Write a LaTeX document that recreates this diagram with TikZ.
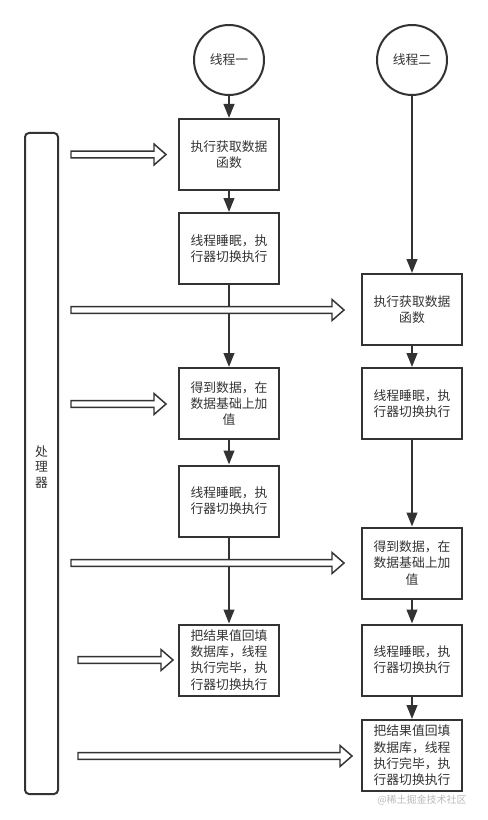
\documentclass[tikz,border=0pt]{standalone}
\usepackage{fontspec}
\setmainfont{Noto Sans CJK SC}
\usetikzlibrary{arrows.meta,calc}

\definecolor{inkgray}{RGB}{51,51,51}
\definecolor{markgray}{RGB}{185,185,185}

\tikzset{every picture/.style={line width=1.5pt}}
\tikzset{
  thread/.style={circle,draw=inkgray,text=inkgray,minimum size=52.5pt,inner sep=0pt,font=\fontsize{9.6}{12.2}\selectfont},
  stepbox/.style={rectangle,draw=inkgray,text=inkgray,minimum width=75pt,minimum height=53.25pt,inner sep=0pt,align=center,font=\fontsize{9.6}{12.2}\selectfont},
  flow/.style={draw=inkgray,-{Triangle[length=10.5pt,width=8pt]}},
  fatarr/.style={draw=inkgray,line width=1.1pt,fill=white,line join=miter}
}
% hollow arrow from #1 to #2 (both at same height)
\newcommand{\fatarrow}[2]{%
  \draw[fatarr] ($(#1)+(0,-3.3)$) -- ($(#2)+(-12,-3.3)$) -- ($(#2)+(-12,-10.5)$) -- (#2)
    -- ($(#2)+(-12,10.5)$) -- ($(#2)+(-12,3.3)$) -- ($(#1)+(0,3.3)$) -- cycle;}

\begin{document}
\begin{tikzpicture}[x=0.75pt,y=0.75pt,yscale=-1,xscale=1]
\useasboundingbox (0,0) rectangle (487,820);

% processor
\draw [draw=inkgray,rounded corners=3pt] (25,133) rectangle (58,794);
\node (cpu) at (41.5,467) [align=center,text=inkgray,font=\fontsize{9.6}{11.4}\selectfont] {处\\理\\器};

% thread one
\node [thread] (t1) at (229,60) {线程一};
\node [stepbox] (a1) at (229,154.5) {执行获取数据\\函数};
\node [stepbox] (a2) at (229,248.5) {线程睡眠，执\\行器切换执行};
\node [stepbox] (a3) at (229,403.5) {得到数据，在\\数据基础上加\\值};
\node [stepbox] (a4) at (229,501) {线程睡眠，执\\行器切换执行};
\node [stepbox] (a5) at (229,660) {把结果值回填\\数据库，线程\\执行完毕，执\\行器切换执行};

% thread two
\node [thread] (t2) at (412,60) {线程二};
\node [stepbox] (b1) at (412,309.5) {执行获取数据\\函数};
\node [stepbox] (b2) at (412,403.5) {线程睡眠，执\\行器切换执行};
\node [stepbox] (b3) at (412,563) {得到数据，在\\数据基础上加\\值};
\node [stepbox] (b4) at (412,660) {线程睡眠，执\\行器切换执行};
\node [stepbox] (b5) at (412,755.5) {把结果值回填\\数据库，线程\\执行完毕，执\\行器切换执行};

% watermark
\node (mark) at (422,800) [text=markgray,font=\fontsize{7.5}{9}\selectfont] {@稀土掘金技术社区};

% flow lines
\draw [flow] (t1) -- (a1);
\draw [flow] (a1) -- (a2);
\draw [flow] (a2) -- (a3);
\draw [flow] (a3) -- (a4);
\draw [flow] (a4) -- (a5);
\draw [flow] (t2) -- (b1);
\draw [flow] (b1) -- (b2);
\draw [flow] (b2) -- (b3);
\draw [flow] (b3) -- (b4);
\draw [flow] (b4) -- (b5);

% hollow arrows from the processor
\coordinate (s1) at (71,154.5);  \coordinate (e1) at (166,154.5);
\coordinate (s2) at (71,310);    \coordinate (e2) at (344,310);
\coordinate (s3) at (71,404);    \coordinate (e3) at (166,404);
\coordinate (s4) at (71,563);    \coordinate (e4) at (344,563);
\coordinate (s5) at (78,660);    \coordinate (e5) at (173,660);
\coordinate (s6) at (78,756);    \coordinate (e6) at (352,756);
\fatarrow{s1}{e1}
\fatarrow{s2}{e2}
\fatarrow{s3}{e3}
\fatarrow{s4}{e4}
\fatarrow{s5}{e5}
\fatarrow{s6}{e6}

\end{tikzpicture}
\end{document}
